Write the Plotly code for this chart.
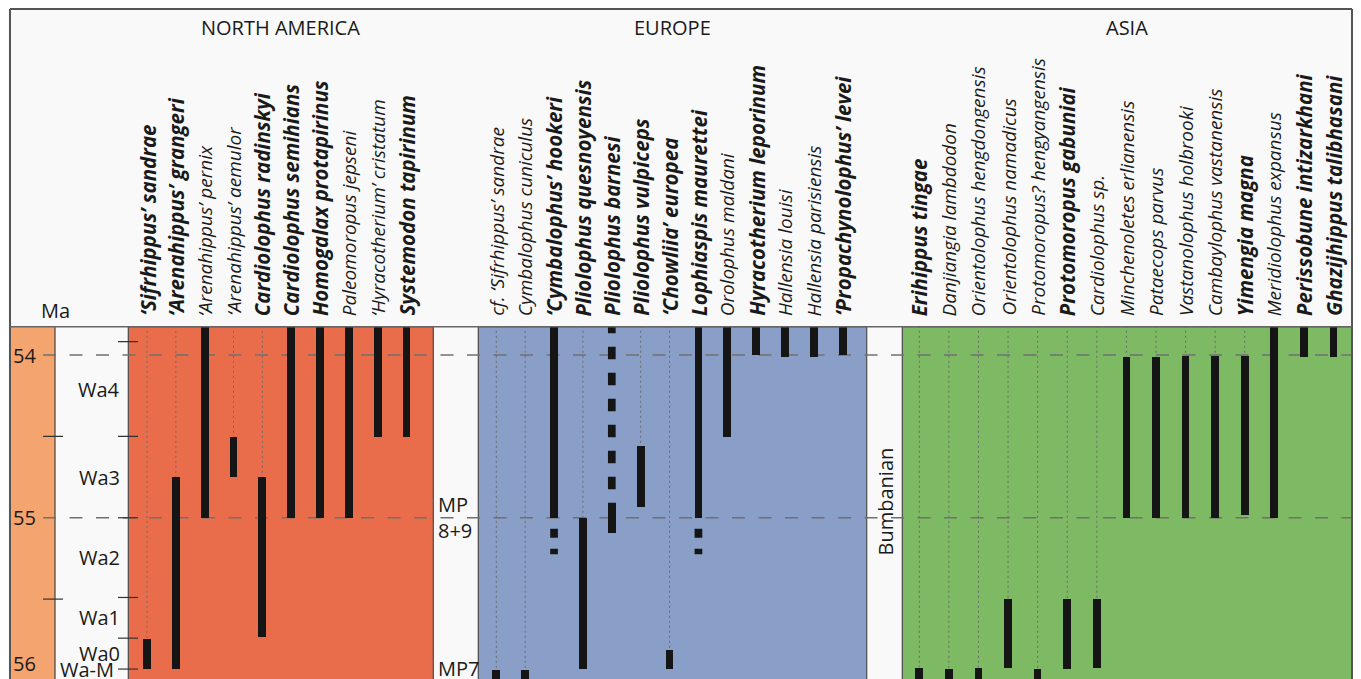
import numpy as np
import plotly.graph_objects as go

# ---------------- data ----------------
REGIONS = ["NORTH AMERICA", "EUROPE", "ASIA"]

NA_SPECIES = ["‘Sifrhippus’ sandrae", "‘Arenahippus’ grangeri", "‘Arenahippus’ pernix",
              "‘Arenahippus’ aemulor", "Cardiolophus radinskyi", "Cardiolophus semihians",
              "Homogalax protapirinus", "Paleomoropus jepseni", "‘Hyracotherium’ cristatum",
              "Systemodon tapirinum"]
NA_BOLD = [1, 1, 0, 0, 1, 1, 1, 0, 0, 1]
NA_YOUNG = [55.745, 54.75, 53.79, 54.50, 54.745, 53.79, 53.79, 53.79, 53.79, 53.79]
NA_OLD = [55.93, 55.93, 55.00, 54.75, 55.73, 55.00, 55.00, 55.00, 54.50, 54.50]
NA_UNC_YOUNG = [None] * 10
NA_UNC_OLD = [None] * 10

EU_SPECIES = ["cf. ‘Sifrhippus’ sandrae", "Cymbalophus cuniculus", "‘Cymbalophus’ hookeri",
              "Pliolophus quesnoyensis", "Pliolophus barnesi", "Pliolophus vulpiceps",
              "‘Chowliia’ europea", "Lophiaspis maurettei", "Orolophus maldani",
              "Hyracotherium leporinum", "Hallensia louisi", "Hallensia parisiensis",
              "‘Propachynolophus’ levei"]
EU_BOLD = [0, 0, 1, 1, 1, 1, 1, 1, 0, 1, 0, 0, 1]
EU_YOUNG = [55.936, 55.936, 53.79, 55.002, 54.91, 54.557, 55.81, 53.79, 53.79, 53.79, 53.79, 53.79, 53.79]
EU_OLD = [56.05, 56.05, 55.00, 55.93, 55.09, 54.934, 55.93, 55.00, 54.50, 54.00, 54.01, 54.01, 54.00]
EU_UNC_YOUNG = [None, None, None, None, 53.79, None, None, None, None, None, None, None, None]
EU_UNC_OLD = [None, None, 55.225, None, None, None, None, 55.225, None, None, None, None, None]

AS_SPECIES = ["Erihippus tingae", "Danjiangia lambdodon", "Orientolophus hengdongensis",
              "Orientolophus namadicus", "Protomoropus? hengyangensis", "Protomoropus gabuniai",
              "Cardiolophus sp.", "Minchenoletes erlianensis", "Pataecops parvus",
              "Vastanolophus holbrooki", "Cambaylophus vastanensis", "Yimengia magna",
              "Meridiolophus expansus", "Perissobune intizarkhani", "Ghazijhippus talibhasani"]
AS_BOLD = [1, 0, 0, 0, 0, 1, 0, 0, 0, 0, 0, 1, 0, 1, 1]
AS_YOUNG = [55.919, 55.925, 55.919, 55.50, 55.925, 55.50, 55.50, 54.01, 54.01, 54.005,
            54.005, 54.005, 53.79, 53.79, 53.79]
AS_OLD = [56.05, 56.05, 56.05, 55.919, 56.05, 55.925, 55.92, 55.00, 55.00, 55.00,
          55.00, 54.98, 55.00, 54.01, 54.01]
AS_UNC_YOUNG = [None] * 15
AS_UNC_OLD = [None] * 15

STAGES = ["Wa4", "Wa3", "Wa2", "Wa1", "Wa0", "Wa-M"]
STAGE_BASES = [53.918, 54.50, 55.00, 55.49, 55.74, 55.93]   # upper boundary of each stage
AGE_LABELS = ["54", "55", "56"]
AGE_VALUES = [54.0, 55.0, 56.0]
MINOR_AGES = [54.5, 55.5]
DASHED_AGES = [54.0, 55.0]
MP_LABELS = ["MP<br>8+9", "MP7"]
MP_AGES = [55.0, 55.926]
ASIA_STAGE = "Bumbanian"
ASIA_STAGE_AGE = 54.90

# ---------------- layout constants ----------------
VIEW_W, VIEW_H = 1361, 679
BODY = 8                      # default page margin of the html body
W, H = VIEW_W - BODY, VIEW_H - BODY
TOP_PX = 326.7
Y_TOP, Y_BOT = 53.826, 55.991
DOM_TOP = (VIEW_H - TOP_PX) / H
FONT = "Open Sans"
TXT = "#1a1a1a"

PANELS = {
    "NORTH AMERICA": dict(x=(128.3, 433.3), cols=(147.0, 406.5), color="#E96D4B"),
    "EUROPE": dict(x=(478.3, 866.7), cols=(496.3, 842.8), color="#8A9FC8"),
    "ASIA": dict(x=(902.3, 1351.7), cols=(919.3, 1333.5), color="#7EB964"),
}
REGION_DATA = {
    "NORTH AMERICA": (NA_SPECIES, NA_BOLD, NA_YOUNG, NA_OLD, NA_UNC_YOUNG, NA_UNC_OLD),
    "EUROPE": (EU_SPECIES, EU_BOLD, EU_YOUNG, EU_OLD, EU_UNC_YOUNG, EU_UNC_OLD),
    "ASIA": (AS_SPECIES, AS_BOLD, AS_YOUNG, AS_OLD, AS_UNC_YOUNG, AS_UNC_OLD),
}


def ppaper(py):
    return (VIEW_H - py) / H


fig = go.Figure()
shapes = []
annotations = []

# Ma column
shapes.append(dict(type="rect", xref="x", yref="paper", x0=10, x1=55, y0=0, y1=DOM_TOP,
                   fillcolor="#F4A46E", line=dict(width=0), layer="below"))
shapes.append(dict(type="line", xref="x", yref="paper", x0=55, x1=55, y0=0, y1=DOM_TOP,
                   line=dict(color="#444", width=1.2), layer="below"))

# region panels
for reg in REGIONS:
    p = PANELS[reg]
    shapes.append(dict(type="rect", xref="x", yref="paper", x0=p["x"][0], x1=p["x"][1],
                       y0=-0.01, y1=DOM_TOP, fillcolor=p["color"],
                       line=dict(color="#4a4a4a", width=1.2), layer="below"))
    annotations.append(dict(x=(p["x"][0] + p["x"][1]) / 2, y=ppaper(27), xref="x", yref="paper",
                            text=reg, showarrow=False, xanchor="center", yanchor="middle",
                            font=dict(family=FONT, size=20, color=TXT)))

# frame
shapes.append(dict(type="line", xref="x", yref="paper", x0=10, x1=10, y0=0, y1=ppaper(9),
                   line=dict(color="#555", width=2)))
shapes.append(dict(type="line", xref="x", yref="paper", x0=10, x1=1352, y0=ppaper(9), y1=ppaper(9),
                   line=dict(color="#555", width=2)))
shapes.append(dict(type="line", xref="x", yref="paper", x0=1352, x1=1352, y0=0, y1=ppaper(9),
                   line=dict(color="#555", width=2)))
shapes.append(dict(type="line", xref="x", yref="paper", x0=10, x1=1352, y0=DOM_TOP, y1=DOM_TOP,
                   line=dict(color="#666", width=1.5)))

# dashed Ma lines
for a in DASHED_AGES:
    shapes.append(dict(type="line", xref="x", yref="y", x0=43, x1=1352, y0=a, y1=a,
                       line=dict(color="#707070", width=1.5, dash="13px,13.5px"), layer="below"))
for a in MINOR_AGES:
    shapes.append(dict(type="line", xref="x", yref="y", x0=43, x1=63, y0=a, y1=a,
                       line=dict(color="#333", width=1.2)))
# stage boundary ticks
for b in STAGE_BASES:
    shapes.append(dict(type="line", xref="x", yref="y", x0=118, x1=138, y0=b, y1=b,
                       line=dict(color="#333", width=1.2)))

# stage labels
bounds = STAGE_BASES
for i, s in enumerate(STAGES):
    if i + 1 < len(bounds):
        yv = (bounds[i] + bounds[i + 1]) / 2
    else:
        yv = bounds[i]
    annotations.append(dict(x=122 if s != "Wa-M" else 116, y=yv, xref="x", yref="y", text=s,
                            showarrow=False, xanchor="right", yanchor="middle",
                            font=dict(family=FONT, size=20, color=TXT)))

# age labels
for lab, v in zip(AGE_LABELS, AGE_VALUES):
    if v <= Y_BOT:
        annotations.append(dict(x=24, y=v, xref="x", yref="y", text=lab, showarrow=False,
                                xanchor="center", yanchor="middle",
                                font=dict(family=FONT, size=20, color=TXT)))
    else:
        annotations.append(dict(x=24, y=Y_BOT, xref="x", yref="y", text=lab, showarrow=False,
                                xanchor="center", yanchor="bottom",
                                font=dict(family=FONT, size=20, color=TXT)))
annotations.append(dict(x=55, y=ppaper(310), xref="x", yref="paper", text="Ma", showarrow=False,
                        xanchor="center", yanchor="middle", font=dict(family=FONT, size=20, color=TXT)))

# MP labels
for lab, v in zip(MP_LABELS, MP_AGES):
    annotations.append(dict(x=436, y=v, xref="x", yref="y", text=lab, showarrow=False,
                            xanchor="left", yanchor="middle", align="left",
                            font=dict(family=FONT, size=20, color=TXT)))
annotations.append(dict(x=885, y=ASIA_STAGE_AGE, xref="x", yref="y", text=ASIA_STAGE,
                        showarrow=False, textangle=-90, xanchor="center", yanchor="middle",
                        font=dict(family=FONT, size=20, color=TXT)))

# species
BAR_W = 7.7
for reg in REGIONS:
    names, bold, young, old, uy, uo = REGION_DATA[reg]
    c0, c1 = PANELS[reg]["cols"]
    xs = np.linspace(c0, c1, len(names))
    # dotted guides
    for x, yv, u in zip(xs, young, uy):
        top = u if u is not None else yv
        if top > Y_TOP:
            fig.add_trace(go.Scatter(x=[x, x], y=[53.79, top], mode="lines",
                                     line=dict(color="#6a6a6a", width=1, dash="2px,3px"),
                                     hoverinfo="skip"))
    # uncertain extensions
    for x, yv, o, u1, u2 in zip(xs, young, old, uy, uo):
        if u1 is not None:
            fig.add_trace(go.Scatter(x=[x, x], y=[u1, yv], mode="lines",
                                     line=dict(color="#151515", width=BAR_W, dash="12.3px,13.7px"),
                                     hoverinfo="skip"))
        if u2 is not None:
            fig.add_trace(go.Scatter(x=[x, x], y=[o, u2], mode="lines",
                                     line=dict(color="#151515", width=BAR_W, dash="0px,11px,9px,0px"),
                                     hoverinfo="skip"))
    fig.add_trace(go.Bar(x=xs, y=[o - y for y, o in zip(young, old)], base=young, width=BAR_W,
                         marker=dict(color="#151515", line=dict(width=0)), hoverinfo="skip"))
    for x, n, b in zip(xs, names, bold):
        t = f"<i>{n}</i>"
        size = 19
        if b:
            t = f"<b>{t}</b>"
            size = 20.5
        annotations.append(dict(x=x, y=ppaper(318), xref="x", yref="paper", text=t,
                                showarrow=False, textangle=-90, xanchor="center", yanchor="bottom",
                                font=dict(family=FONT, size=size, color=TXT)))

fig.update_layout(
    width=W, height=H, margin=dict(l=0, r=0, t=0, b=0),
    paper_bgcolor="#F9F9F9", plot_bgcolor="rgba(0,0,0,0)",
    xaxis=dict(range=[BODY, VIEW_W], visible=False, fixedrange=True),
    yaxis=dict(range=[Y_BOT, Y_TOP], domain=[0, DOM_TOP], visible=False, fixedrange=True),
    showlegend=False, barmode="overlay", bargap=0,
    shapes=shapes, annotations=annotations,
)
fig.write_html("out.html")
